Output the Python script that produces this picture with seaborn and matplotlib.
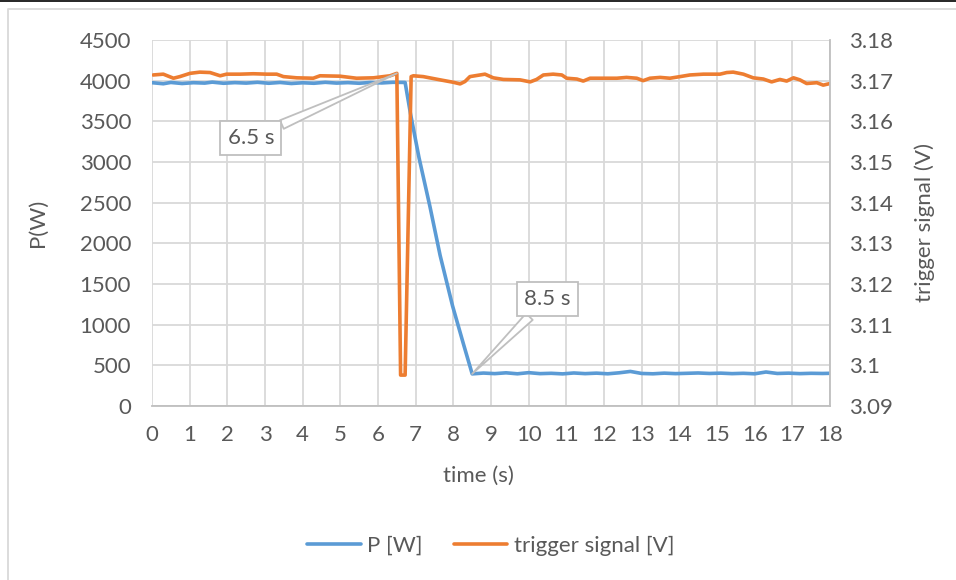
import matplotlib
matplotlib.use("Agg")
import matplotlib.pyplot as plt
from matplotlib.lines import Line2D
from matplotlib.ticker import FuncFormatter
import pandas as pd
import seaborn as sns

# Measured power during the switching event
time_p = [0.0, 0.3, 0.5, 0.8, 1.1, 1.4, 1.6, 1.9, 2.2, 2.5, 2.8, 3.1, 3.4, 3.7,
          4.0, 4.3, 4.6, 4.9, 5.2, 5.5, 5.8, 6.1, 6.4, 6.72, 6.86, 7.09, 7.38,
          7.65, 7.98, 8.27, 8.5, 8.8, 9.1, 9.4, 9.7, 10.0, 10.3, 10.6, 10.9,
          11.2, 11.5, 11.8, 12.1, 12.4, 12.7, 13.0, 13.3, 13.6, 13.9, 14.2,
          14.5, 14.8, 15.1, 15.4, 15.7, 16.0, 16.3, 16.6, 16.9, 17.2, 17.5,
          17.8, 18.0]
power_w = [3975, 3962, 3978, 3965, 3975, 3970, 3982, 3968, 3976, 3970, 3980,
           3968, 3978, 3965, 3974, 3968, 3980, 3970, 3976, 3968, 3978, 3972,
           3980, 3978, 3600, 3050, 2450, 1850, 1230, 760, 395, 405, 398, 408,
           396, 410, 398, 402, 395, 406, 398, 404, 396, 408, 425, 400, 396,
           404, 398, 402, 406, 400, 404, 398, 402, 396, 418, 400, 404, 398,
           402, 400, 402]

# Trigger signal voltage
time_v = [0.03, 0.30, 0.57, 0.74, 1.01, 1.27, 1.54, 1.81, 1.98, 2.34, 2.69,
          3.05, 3.31, 3.49, 3.84, 4.28, 4.46, 4.99, 5.43, 5.88, 6.32, 6.5,
          6.6, 6.72, 6.88, 6.94, 7.20, 7.65, 8.00, 8.18, 8.31, 8.44, 8.84,
          9.06, 9.33, 9.77, 10.04, 10.21, 10.39, 10.65, 10.88, 11.01, 11.28,
          11.45, 11.63, 11.98, 12.34, 12.60, 12.87, 13.04, 13.22, 13.49,
          13.75, 14.02, 14.28, 14.64, 15.08, 15.26, 15.43, 15.70, 15.96,
          16.23, 16.45, 16.67, 16.85, 17.03, 17.20, 17.38, 17.65, 17.82, 18.0]
trigger_v = [3.1714, 3.1716, 3.1706, 3.1710, 3.1718, 3.1721, 3.1720, 3.1712,
             3.1716, 3.1716, 3.1717, 3.1716, 3.1716, 3.1710, 3.1707, 3.1706,
             3.1712, 3.1711, 3.1706, 3.1707, 3.1712, 3.1718, 3.0976, 3.0976,
             3.1710, 3.1712, 3.1710, 3.1702, 3.1696, 3.1692, 3.1698, 3.1710,
             3.1716, 3.1707, 3.1703, 3.1702, 3.1697, 3.1703, 3.1714, 3.1716,
             3.1714, 3.1706, 3.1704, 3.1699, 3.1706, 3.1706, 3.1706, 3.1708,
             3.1706, 3.1700, 3.1706, 3.1708, 3.1706, 3.1710, 3.1714, 3.1716,
             3.1716, 3.1720, 3.1721, 3.1716, 3.1707, 3.1704, 3.1697, 3.1703,
             3.1699, 3.1707, 3.1702, 3.1693, 3.1695, 3.1689, 3.1693]

x_ticks = list(range(0, 19))
p_ticks = list(range(0, 5000, 500))
v_ticks = [3.09, 3.10, 3.11, 3.12, 3.13, 3.14, 3.15, 3.16, 3.17, 3.18]

# Annotated instants
switch_t, switch_v = 6.5, 3.1718
settle_t, settle_p = 8.5, 395

BLUE = "#5B9BD5"
ORANGE = "#ED7D31"
TEXT = "#595959"
GRID = "#D9D9D9"
AXIS = "#BFBFBF"
LW = 2.6

sns.set_style("white")
plt.rcParams["font.family"] = ["Lato", "DejaVu Sans"]
plt.rcParams["font.size"] = 16

df_p = pd.DataFrame({"time": time_p, "P": power_w})
df_v = pd.DataFrame({"time": time_v, "V": trigger_v})

fig = plt.figure(figsize=(9.56, 5.80), dpi=100)
W, H = 956, 580
ax = fig.add_axes([152 / W, 1 - 406 / H, 678 / W, 366 / H])
ax2 = ax.twinx()

sns.lineplot(data=df_p, x="time", y="P", ax=ax, color=BLUE, lw=LW,
             sort=False, legend=False)
sns.lineplot(data=df_v, x="time", y="V", ax=ax2, color=ORANGE, lw=LW,
             sort=False, legend=False)

ax.set_xlim(0, 18)
ax.set_ylim(0, 4500)
ax2.set_ylim(3.09, 3.18)
ax.set_xticks(x_ticks)
ax.set_yticks(p_ticks)
ax2.set_yticks(v_ticks)
ax2.yaxis.set_major_formatter(FuncFormatter(lambda v, _: f"{v:.2f}".rstrip("0")))

ax.grid(True, color=GRID, lw=1.3)
ax.set_axisbelow(True)
ax2.grid(False)

for a in (ax, ax2):
    a.tick_params(length=0, colors=TEXT, labelsize=16)
    for s in a.spines.values():
        s.set_visible(False)
ax.tick_params(axis="y", pad=15)
ax.tick_params(axis="x", pad=14)
ax2.tick_params(axis="y", pad=14)
for side in ("bottom", "right"):
    ax2.spines[side].set_visible(True)
    ax2.spines[side].set_color(AXIS)
    ax2.spines[side].set_linewidth(1.3)

ax.set_xlabel("time (s)", color=TEXT, fontsize=16)
ax.set_ylabel("P(W)", color=TEXT, fontsize=16, va="center")
ax2.set_ylabel("trigger signal (V)", color=TEXT, fontsize=16, va="center",
               rotation=90)
ax.xaxis.set_label_coords(326 / 678, -(476 - 406) / 366)
ax.yaxis.set_label_coords((38 - 152) / 678, 0.5)
ax2.yaxis.set_label_coords((925 - 152) / 678, 0.5)
ax.xaxis.label.set_va("center")

# Callouts
box = dict(boxstyle="square,pad=0.32", fc="white", ec=AXIS, lw=1.3)
wedge = dict(arrowstyle="wedge,tail_width=0.42", fc="white", ec=AXIS, lw=1.3,
             shrinkA=0, shrinkB=0)
ax2.annotate(f"{switch_t} s", xy=(switch_t, switch_v), xycoords=ax2.transData,
             xytext=(-146, -65), textcoords="offset pixels", ha="center",
             va="center", color=TEXT, fontsize=16, bbox=box, arrowprops=wedge,
             zorder=5)
ax2.annotate(f"{settle_t} s", xy=(settle_t, settle_p), xycoords=ax.transData,
             xytext=(75, 75), textcoords="offset pixels", ha="center",
             va="center", color=TEXT, fontsize=16, bbox=box, arrowprops=wedge,
             zorder=5)

handles = [Line2D([], [], color=BLUE, lw=LW), Line2D([], [], color=ORANGE, lw=LW)]
fig.legend(handles, ["P [W]", "trigger signal [V]"], loc="center",
           bbox_to_anchor=(491 / W, 1 - 546 / H), ncol=2, frameon=False,
           fontsize=16, labelcolor=TEXT, handlelength=2.4, handletextpad=0.3,
           columnspacing=1.4)

# Chart frame
fig.add_artist(Line2D([0, 1], [1 - 0.5 / H, 1 - 0.5 / H], transform=fig.transFigure,
                      color="black", lw=1.2))
fig.add_artist(Line2D([7.5 / W, 7.5 / W, 1], [0, 1 - 8.5 / H, 1 - 8.5 / H],
                      transform=fig.transFigure, color=GRID, lw=1.3))

fig.savefig("out.png", dpi=100, facecolor="white")
